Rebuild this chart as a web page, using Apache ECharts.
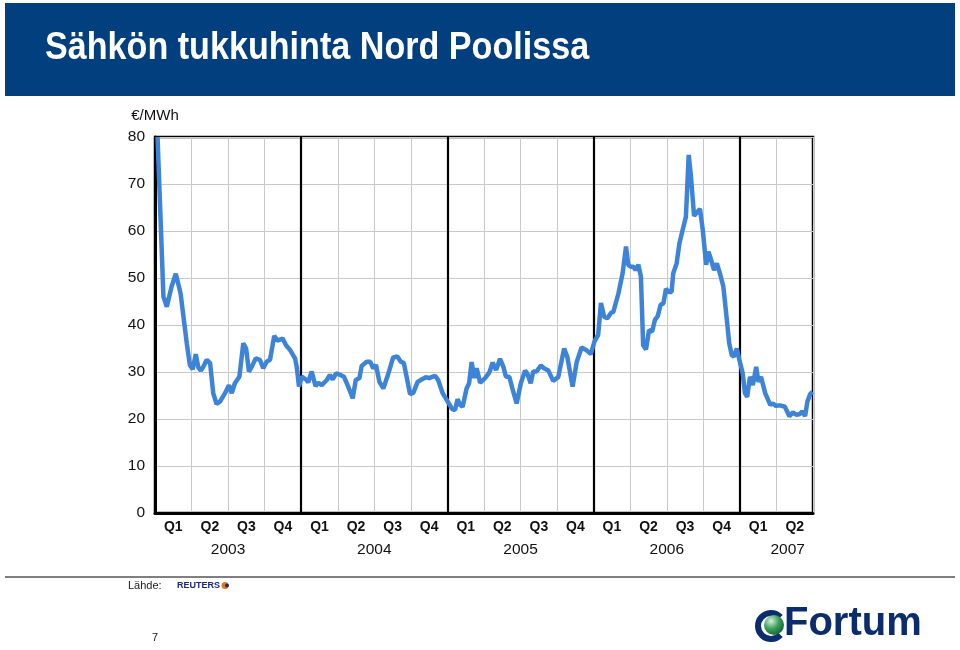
<!DOCTYPE html>
<html>
<head>
<meta charset="utf-8">
<script src="https://cdn.jsdelivr.net/npm/echarts@6/dist/echarts.min.js"></script>
<style>
html,body{margin:0;padding:0;background:#fff;}
#chart{width:960px;height:650px;}
</style>
</head>
<body>
<div id="chart"></div>
<script>
// week index since start of 2003 (13 weeks per quarter)
const weeks = [0.9,3.0,4.2,5.9,7.4,9.1,11.3,12.4,13.4,14.5,15.4,16.3,17.2,18.4,19.6,20.7,21.9,23.1,24.9,26.3,27.3,28.4,30.0,31.4,32.4,33.4,34.4,35.8,37.3,38.5,39.7,40.9,42.4,43.5,45.4,46.6,48.0,49.8,50.4,51.2,52.2,53.9,54.5,55.7,57.1,58.1,59.3,61.1,62.2,63.2,64.4,65.8,67.2,68.7,70.3,71.4,72.7,73.5,75.3,76.5,77.6,78.6,79.8,81.2,83.0,84.7,86.2,87.4,88.5,89.7,90.7,91.9,93.4,94.8,96.3,97.5,99.6,100.7,102.3,104.1,105.7,106.7,107.6,108.5,109.4,110.8,111.7,112.6,113.6,114.4,115.6,117.4,118.9,120.1,121.3,122.7,123.9,124.8,126.0,127.4,128.6,130.1,131.6,132.4,133.6,134.5,135.7,137.2,138.3,139.9,141.6,143.4,145.5,146.6,148.5,150.0,151.7,153.3,155.0,156.3,157.6,158.6,159.7,160.8,162.2,163.0,164.8,166.3,167.5,168.3,169.2,170.1,170.9,171.9,172.8,173.6,174.6,175.7,176.8,177.8,178.8,179.8,180.8,181.7,182.8,183.7,184.3,185.5,186.5,187.5,188.8,189.8,190.6,191.7,192.9,193.8,194.8,196.0,196.8,197.6,198.8,199.8,200.9,202.1,203.0,204.2,205.1,205.9,206.9,207.8,209.0,209.8,210.6,211.6,212.6,213.8,214.6,215.5,217.0,218.8,219.7,220.8,222.3,224.0,225.6,226.8,228.0,229.1,230.2,231.2,232.0,233.0,233.8];
// €/MWh
const prices = [80,46.0,43.9,48.2,50.9,46.7,36.1,31.5,30.6,33.8,31.0,30.3,31.1,32.6,31.9,25.5,23.2,23.7,25.5,27.2,25.5,27.6,29.0,36.1,35.0,30.1,31.1,32.9,32.6,30.8,32.2,32.6,37.7,36.7,37.1,35.7,34.7,32.9,31.1,26.9,29.0,28.3,27.8,30.1,27.0,27.7,27.2,28.3,29.4,28.4,29.7,29.4,29.0,26.9,24.4,28.3,28.7,31.3,32.2,32.2,30.8,31.5,27.9,26.5,29.7,33.1,33.3,32.2,31.9,28.3,25.3,25.6,27.9,28.4,28.9,28.7,29.2,28.3,25.5,23.7,22.1,21.9,24.2,23.0,22.6,26.5,27.6,32.1,28.7,30.8,27.7,28.7,29.9,32.0,30.4,32.8,31.1,29.0,29.0,25.8,23.3,27.6,30.3,29.7,27.6,30.1,30.1,31.4,30.8,30.3,28.1,28.9,35.0,33.3,26.9,32.2,35.2,34.7,33.8,36.5,37.9,44.7,41.8,41.4,42.6,42.8,46.7,51.0,56.7,52.8,52.4,52.4,51.7,52.8,50.3,35.7,34.8,38.9,38.6,41.1,41.9,44.3,44.6,47.7,47.0,47.0,51.0,53.1,57.4,59.9,63.0,76.2,71.6,63.2,64.1,64.7,60.2,52.8,55.6,54.2,51.7,53.1,51.0,48.2,43.2,36.1,33.6,33.3,35.0,32.6,29.7,25.5,24.7,29.0,27.2,31.1,27.9,29.0,25.5,23.0,23.3,22.8,22.9,22.6,20.6,21.4,20.9,21.0,21.6,20.6,23.7,25.3,25.8];

const quarterLabels = ['Q1','Q2','Q3','Q4','Q1','Q2','Q3','Q4','Q1','Q2','Q3','Q4','Q1','Q2','Q3','Q4','Q1','Q2'];
const quarterLabelWeeks = [6.5,19.5,32.5,45.5,58.5,71.5,84.5,97.5,110.5,123.5,136.5,149.5,162.5,175.5,188.5,201.5,214.5,227.5];
const yearLabels = ['2003','2004','2005','2006','2007'];
const yearLabelWeeks = [26,78,130,182,225];
const yearBoundaryWeeks = [52,104,156,208];
const yTicks = [0,10,20,30,40,50,60,70,80];

const seriesData = weeks.map((w,i)=>[w,prices[i]]);

const chart = echarts.init(document.getElementById('chart'));
const navy = '#0b2d6e';
chart.setOption({
  animation:false,
  backgroundColor:'#fff',
  grid:{left:155,top:137,width:658,height:376,show:true,borderColor:'#000',borderWidth:2.5,backgroundColor:'transparent'},
  xAxis:[{
    type:'value',min:0,max:234,interval:13,
    axisLine:{show:true,lineStyle:{color:'#000',width:3}},
    axisTick:{show:false},
    splitLine:{show:true,lineStyle:{color:'#c9c9c9',width:1}},
    axisLabel:{
      customValues:quarterLabelWeeks,
      formatter:(v)=>{const i=quarterLabelWeeks.indexOf(v);return i>=0?quarterLabels[i]:'';},
      fontFamily:'Arial, Liberation Sans, sans-serif',fontWeight:'bold',fontSize:14,color:'#111',margin:7
    }
  },{
    type:'value',min:0,max:234,position:'bottom',offset:22,
    axisLine:{show:false},axisTick:{show:false},splitLine:{show:false},
    axisLabel:{
      customValues:yearLabelWeeks,
      formatter:(v)=>{const i=yearLabelWeeks.indexOf(v);return i>=0?yearLabels[i]:'';},
      fontFamily:'Arial, Liberation Sans, sans-serif',fontSize:15.5,color:'#111',margin:7
    }
  }],
  yAxis:{
    type:'value',min:0,max:80,interval:10,
    name:'€/MWh',nameLocation:'end',nameGap:14,
    nameTextStyle:{fontFamily:'Arial, Liberation Sans, sans-serif',fontSize:15,color:'#111'},
    axisLine:{show:true,lineStyle:{color:'#000',width:3}},
    axisTick:{show:false},
    splitLine:{show:true,lineStyle:{color:'#c9c9c9',width:1}},
    axisLabel:{fontFamily:'Arial, Liberation Sans, sans-serif',fontSize:15.5,color:'#111',margin:10,
      formatter:(v)=>yTicks.includes(v)?String(v):''}
  },
  series:[{
    type:'line',xAxisIndex:0,data:seriesData,showSymbol:false,symbol:'none',
    lineStyle:{color:'#3d84d9',width:4.5},
    z:3,
    markLine:{
      silent:true,symbol:'none',label:{show:false},
      lineStyle:{color:'#000',width:2.2,type:'solid'},
      data:yearBoundaryWeeks.map(w=>({xAxis:w})),
      z:2
    }
  }],
  graphic:[
    {type:'rect',shape:{x:5,y:3,width:950,height:93},style:{fill:'#023f7e'},silent:true},
    {type:'text',x:45,y:48,scaleX:0.875,originX:0,originY:0,style:{x:0,y:0,text:'Sähkön tukkuhinta Nord Poolissa',fill:'#fff',
      verticalAlign:'middle',font:'bold 39px "Liberation Sans", Arial, sans-serif'}},
    {type:'line',shape:{x1:5,y1:577,x2:955,y2:577},style:{stroke:'#555',lineWidth:1.5}},
    {type:'text',left:128,top:580,style:{text:'Lähde:',fill:'#222',font:'11px Arial, "Liberation Sans", sans-serif'}},
    {type:'text',left:177,top:581,style:{text:'REUTERS',fill:'#1c2a80',font:'bold 9px Arial, "Liberation Sans", sans-serif'}},
    {type:'circle',shape:{cx:225,cy:585.5,r:3.5},style:{fill:'#e07a20'}},
    {type:'circle',shape:{cx:227,cy:585.5,r:2},style:{fill:'#1c2a80'}},
    {type:'text',left:152,top:632,style:{text:'7',fill:'#222',font:'11px Arial, "Liberation Sans", sans-serif'}},
    {type:'arc',shape:{cx:771,cy:626,r:13,startAngle:0.75,endAngle:Math.PI*2-0.75,clockwise:true},
      style:{stroke:navy,lineWidth:6,fill:null}},
    {type:'circle',shape:{cx:774,cy:625,r:10},style:{fill:new echarts.graphic.RadialGradient(0.35,0.3,0.8,[{offset:0,color:'#d8f0d8'},{offset:0.5,color:'#3aa05a'},{offset:1,color:'#0d5a2c'}])}},
    {type:'text',left:784,top:604,style:{text:'Fortum',fill:navy,font:'bold 40px Arial, "Liberation Sans", sans-serif'}}
  ]
});
</script>
</body>
</html>
